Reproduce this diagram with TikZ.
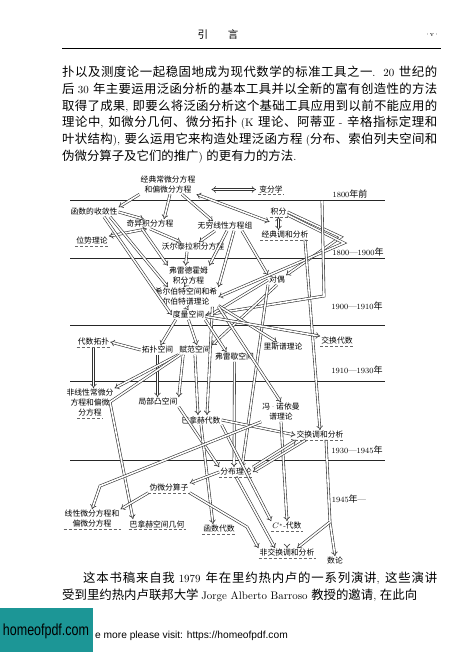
\documentclass[tikz,border=0pt]{standalone}
\usepackage{fontspec}
\setmainfont{Latin Modern Roman}[Scale=0.88]
\newfontfamily\cjk{Noto Sans CJK SC}
\newfontfamily\wmsans{Liberation Sans}
\usetikzlibrary{arrows.meta}

\definecolor{wmteal}{RGB}{28,150,150}

% CJK characters switch to \cjk by themselves
\chardef\cjkclass=8
\def\setcjkrange#1#2{\count255=#1 \loop\XeTeXcharclass\count255=\cjkclass \advance\count255 by 1 \ifnum\count255<#2 \repeat}
\setcjkrange{"3000}{"3040}
\setcjkrange{"4E00}{"A000}
\setcjkrange{"FF00}{"FFF0}
\XeTeXinterchartoks 0 \cjkclass = {\cjk}
\XeTeXinterchartoks 4095 \cjkclass = {\cjk}
\XeTeXinterchartoks \cjkclass 0 = {\rmfamily}
\XeTeXinterchartoks 4095 0 = {\rmfamily}
\XeTeXinterchartoks \cjkclass \cjkclass = {\hskip 0pt plus 1pt minus .3pt\relax}
\AtBeginDocument{\XeTeXinterchartokenstate=1 }

\newcommand\headfont{\fontsize{10.5}{12}\selectfont}
\newcommand\folfont{\fontsize{8}{9}\selectfont}
\newcommand\bodyfont{\fontsize{12.4}{16.7}\selectfont}
\newcommand\labfont{\fontsize{7.8}{10}\selectfont}
\newcommand\erafont{\fontsize{9}{10}\selectfont}
\newcommand\wmbig{\XeTeXinterchartokenstate=0 \wmsans\fontsize{16}{16}\selectfont}
\newcommand\wmsmall{\XeTeXinterchartokenstate=0 \wmsans\fontsize{10.2}{12}\selectfont}

\tikzset{
  field/.style={font=\labfont, inner sep=1pt, align=center},
  era/.style={font=\erafont, inner sep=0pt},
  eraline/.style={line width=.55pt, black!85},
  bodytext/.style={font=\bodyfont, inner sep=0pt, text width=375pt, align=justify, anchor=north west},
  flow/.style={draw=black!80, line width=.6pt, double=white, double distance=1.6pt, -{Implies}},
  flow2/.style={flow, {Implies}-{Implies}},
  dashline/.style={densely dashed, line width=.35pt, black!60}
}

\begin{document}
\begin{tikzpicture}[x=1pt, y=-1pt]
    \useasboundingbox (0,0) rectangle (459,652);
    \fill[white] (0,0) rectangle (459,652);

    % Header
    \node[font=\headfont] (head) at (218,35) {引\hspace{1.9em}言};
    \node[font=\folfont] (folio) at (432,35) {$\cdot$\,v\,$\cdot$};
    \draw[line width=.6pt] (62,48) -- (441,48);

    % Text
    \node[bodytext] (para1) at (62,66) {扑以及测度论一起稳固地成为现代数学的标准工具之一. 20 世纪的\linebreak
    后 30 年主要运用泛函分析的基本工具并以全新的富有创造性的方法\linebreak
    取得了成果, 即要么将泛函分析这个基础工具应用到以前不能应用的\linebreak
    理论中, 如微分几何、微分拓扑 (K 理论、阿蒂亚 - 辛格指标定理和\linebreak
    叶状结构), 要么运用它来构造处理泛函方程 (分布、索伯列夫空间和\linebreak
    伪微分算子及它们的推广) 的更有力的方法.};

    % Periods
    \foreach \y in {200,258.5,325.5,381,460}
        \draw[eraline] (70,\y) -- (385,\y);
    \node[era] (e1) at (350,194) {1800年前};
    \node[era] (e2) at (358,252) {1800—1900年};
    \node[era] (e3) at (357,306) {1900—1910年};
    \node[era] (e4) at (357,370) {1910—1930年};
    \node[era] (e5) at (357,450) {1930—1945年};
    \node[era] (e6) at (349,499) {1945年—};

    % Nodes
    \node[field] (ode) at (168,184.5) {经典常微分方程\\和偏微分方程};
    \node[field] (calvar) at (271,189.5) {变分学};
    \node[field] (conv) at (94,212) {函数的收敛性};
    \node[field] (sing) at (150,224) {奇异积分方程};
    \node[field] (inflin) at (225,226) {无穷线性方程组};
    \node[field] (pot) at (92,241) {位势理论};
    \node[field] (volt) at (193,247) {沃尔泰拉积分方程};
    \node[field] (integ) at (278.5,212) {积分};
    \node[field] (harm) at (285,235) {经典调和分析};
    \node[field] (fred) at (188.5,275.5) {弗雷德霍姆\\积分方程};
    \node[field] (dual) at (277,280) {对偶};
    \node[field] (hilbert) at (186,297) {希尔伯特空间和希\\尔伯特谱理论};
    \node[field] (metric) at (188.5,315) {度量空间};
    \node[field] (algtop) at (93.5,342) {代数拓扑};
    \node[field] (topsp) at (157.5,350) {拓扑空间};
    \node[field] (normed) at (195,350) {赋范空间};
    \node[field] (frechet) at (234.5,357) {弗雷歇空间};
    \node[field] (riesz) at (283,347) {里斯谱理论};
    \node[field] (commalg) at (337,341) {交换代数};
    \node[field] (nonlin) at (90,403) {非线性常微分\\方程和偏微\\分方程};
    \node[field] (lconv) at (158,402) {局部凸空间};
    \node[field] (banalg) at (201,420) {巴拿赫代数};
    \node[field] (vneu) at (281,412) {冯·诺依曼\\谱理论};
    \node[field] (commharm) at (320,435) {交换调和分析};
    \node[field] (distrib) at (236,472) {分布理论};
    \node[field] (pseudo) at (169,488) {伪微分算子};
    \node[field] (lindiff) at (92,519) {线性微分方程和\\偏微分方程};
    \node[field] (bangeom) at (157,524) {巴拿赫空间几何};
    \node[field] (funcalg) at (219,529) {函数代数};
    \node[field] (cstar) at (287,526) {$C^*$-代数};
    \node[field] (ncharm) at (287,553) {非交换调和分析};
    \node[field] (numth) at (335,561) {数论};

    % Bends
    \coordinate (kintg) at (341,237);
    \coordinate (kintg2) at (344,243);
    \coordinate (vtop) at (322,201);
    \coordinate (vbot) at (324,296);
    \coordinate (knorm) at (110,402);
    \coordinate (kvneu) at (100,486);
    \coordinate (kpsd) at (247,527);
    \coordinate (kharm) at (330,522);

    % Arrows
    \draw[flow] (ode.south west) -- (conv.north east);
    \draw[flow] ([xshift=2pt]ode.south) -- ([xshift=14pt]sing.north);
    \draw[flow] ([xshift=14pt]ode.south) -- ([xshift=-12pt]inflin.north);
    \draw[flow2] (ode.south east) -- ([yshift=-5pt]integ.south west);
    \draw[flow2] ([xshift=15pt]ode.east |- calvar.west) -- ([xshift=-2pt]calvar.west);
    \draw[flow] (conv.east) -- ([xshift=-6pt]sing.north);
    \draw[flow2] (pot.north east) -- ([xshift=-3pt]sing.south);
    \draw[flow] (sing.south) -- ([xshift=-12pt]volt.north);
    \draw[flow] ([xshift=-10pt]inflin.south) -- ([xshift=6pt]volt.north);
    \draw[flow] ([xshift=-6pt]volt.south) -- ([xshift=-3pt]fred.north);
    \draw[flow] ([xshift=-8pt]sing.south) -- (fred.north west);
    \draw[flow] ([xshift=2pt]inflin.south) -- (fred.north east);
    \draw[flow] ([xshift=9pt]inflin.south) -- (hilbert.north east);
    \draw[flow] ([xshift=17pt]inflin.south) -- (dual.north west);
    \draw[flow] ([xshift=16pt]conv.south) -- ([xshift=-18pt]hilbert.north);
    \draw[flow] ([xshift=10pt]conv.south) -- (metric.west);
    \draw[flow] ([xshift=-3pt]fred.south) -- ([xshift=-2pt]hilbert.north);
    \draw[flow] (hilbert.south) -- (metric.north);
    \draw[flow2] (integ.south) -- (harm.north -| integ.south);
    \draw[flow] (integ.east) -- (kintg) -- (dual.north east);
    \draw[flow] ([yshift=-3pt]integ.east) -- (kintg2) -- (hilbert.east);
    \draw[flow] ([xshift=20pt]harm.south) -- (commharm.north);
    \draw[flow] (vtop) -- (vbot) -- (metric.east);
    \draw[flow] (dual.west) -- ([yshift=-3pt]metric.east);
    \draw[flow] (dual.south) -- (normed.north east);
    \draw[flow] (dual.south west) -- ([xshift=6pt]distrib.north);
    \draw[flow] (hilbert.-15) -- ([xshift=-6pt]riesz.north);
    \draw[flow] (hilbert.south east) -- (vneu.north);
    \draw[flow] ([xshift=-6pt]hilbert.south east) -- ([xshift=6pt]banalg.north);
    \draw[flow] ([xshift=4pt]metric.south west) -- ([xshift=3pt]topsp.north);
    \draw[flow] (metric.south) -- ([xshift=2pt]normed.north);
    \draw[flow] (metric.south east) -- ([xshift=-8pt]frechet.north);
    \draw[flow] (metric.-5) -- (commalg.north west);
    \draw[flow] (topsp.west) -- (algtop.east);
    \draw[flow] (topsp.south) -- (lconv.north -| topsp.south);
    \draw[flow] (normed.south west) -- (nonlin.north east);
    \draw[flow] ([xshift=5pt]normed.south west) -- (lconv.north east);
    \draw[flow] ([xshift=2pt]normed.south west) -- (knorm) -- ([xshift=-24pt]bangeom.north);
    \draw[flow] (normed.south) -- ([xshift=-3pt]banalg.north);
    \draw[flow] (algtop.south) -- (nonlin.north -| algtop.south);
    \draw[flow] (frechet.south) -- ([xshift=-2pt]distrib.north);
    \draw[flow] (lconv.south east) -- (distrib.north west);
    \draw[flow] (banalg.east) -- (commharm.west);
    \draw[flow] (banalg.south) -- ([xshift=-6pt]funcalg.north);
    \draw[flow] (banalg.south east) -- (cstar.north west);
    \draw[flow] (vneu.south) -- (cstar.north);
    \draw[flow] (vneu.south west) -- (kvneu) -- (lindiff.north);
    \draw[flow] (distrib.north east) -- ([xshift=1pt]commharm.south west);
    \draw[flow] ([xshift=-14pt]commharm.south) -- (distrib.east);
    \draw[flow] (distrib.west) -- (pseudo.north east);
    \draw[flow] (pseudo.south west) -- (lindiff.north east);
    \draw[flow] (pseudo.south east) -- (kpsd) -- (ncharm.north west);
    \draw[flow] (distrib.south) -- ([xshift=-12pt]ncharm.north);
    \draw[flow] (cstar.south) -- (ncharm.north);
    \draw[flow] ([xshift=6pt]commharm.south) -- (kharm) -- (numth.north);
    \draw[flow] (kharm) -- ([xshift=10pt]ncharm.north);

    % Dashed underlines
    \foreach \n in {calvar,pot,integ,harm,algtop,commalg,commharm,distrib,pseudo,lindiff,bangeom,funcalg,cstar,ncharm}
        \draw[dashline] (\n.south west) -- (\n.south east);
    \draw[dashline] ([xshift=-13pt]nonlin.south) -- ([xshift=13pt]nonlin.south);

    % Text below
    \node[bodytext] (para2) at (62,572) {\parfillskip=0pt \hspace*{21pt}这本书稿来自我 1979 年在里约热内卢的一系列演讲, 这些演讲\linebreak
    受到里约热内卢联邦大学 Jorge Alberto Barroso 教授的邀请, 在此向};

    % Watermark
    \fill[wmteal] (0,608) rectangle (93,652);
    \node[font=\wmbig, xscale=0.78] (wmlogo) at (46,631) {homeofpdf.com};
    \node[font=\wmsmall, anchor=west, inner sep=0pt] (visit) at (95,636) {e more please visit: https://homeofpdf.com};
\end{tikzpicture}
\end{document}
